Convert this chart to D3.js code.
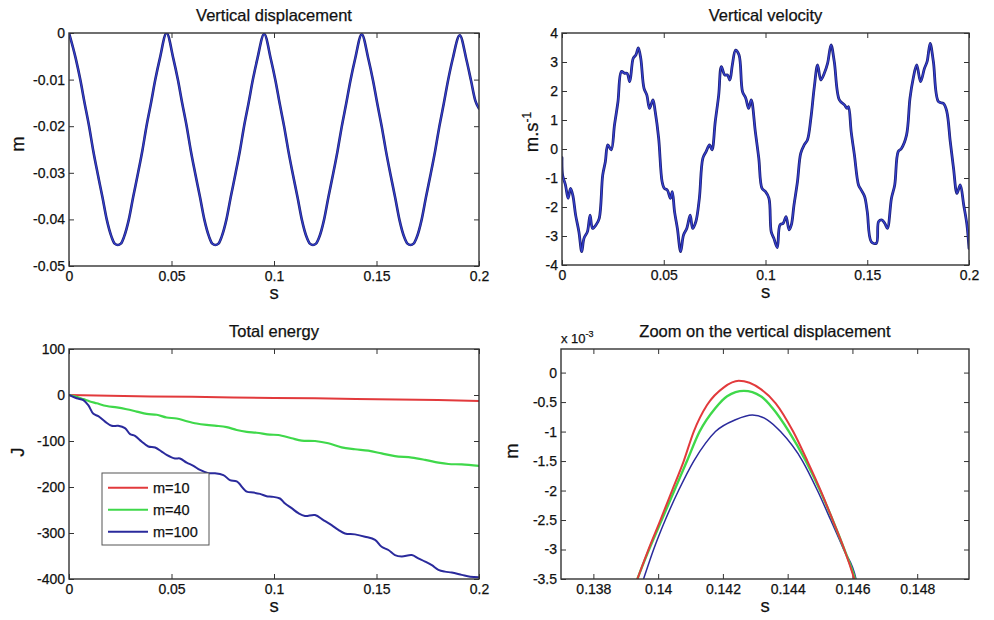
<!DOCTYPE html>
<html><head><meta charset="utf-8">
<script src="https://cdn.jsdelivr.net/npm/d3@7"></script>
<style>
body{margin:0;background:#fff}
svg{display:block}
text{font-family:"Liberation Sans",Arial,Helvetica,sans-serif;fill:#111;stroke:#111;stroke-width:0.25px}
</style>
</head><body>
<svg id="c" width="994" height="620"></svg>
<script>
// ---------- DATA ----------
// Panel 1: vertical displacement [s, m]
const dispData=[[0,0],[0.0033,-0.0055],[0.0055,-0.010],[0.0076,-0.015],[0.0098,-0.020],[0.0118,-0.0252],[0.0139,-0.030],[0.0163,-0.0352],[0.0184,-0.040],[0.0208,-0.0438],[0.0223,-0.0452],[0.0238,-0.0455],[0.0253,-0.0452],[0.0268,-0.0438],[0.0292,-0.040],[0.0313,-0.0352],[0.0337,-0.030],[0.0358,-0.0252],[0.0378,-0.020],[0.04,-0.015],[0.0421,-0.010],[0.0443,-0.0055],[0.0476,0],
[0.0509,-0.0055],[0.0531,-0.010],[0.0552,-0.015],[0.0574,-0.020],[0.0594,-0.0252],[0.0615,-0.030],[0.0639,-0.0352],[0.066,-0.040],[0.0684,-0.0438],[0.0699,-0.0452],[0.0714,-0.0455],[0.0729,-0.0452],[0.0744,-0.0438],[0.0768,-0.040],[0.0789,-0.0352],[0.0813,-0.030],[0.0834,-0.0252],[0.0854,-0.020],[0.0876,-0.015],[0.0897,-0.010],[0.0919,-0.0055],[0.0952,-0.0002],
[0.0985,-0.0057],[0.1007,-0.0102],[0.1028,-0.0152],[0.105,-0.0202],[0.107,-0.0253],[0.1091,-0.0301],[0.1115,-0.0353],[0.1136,-0.0401],[0.116,-0.0439],[0.1175,-0.0452],[0.119,-0.0455],[0.1205,-0.0452],[0.122,-0.0439],[0.1244,-0.0401],[0.1265,-0.0353],[0.1289,-0.0301],[0.131,-0.0253],[0.133,-0.0202],[0.1352,-0.0152],[0.1373,-0.0102],[0.1395,-0.0057],[0.1428,-0.0003],
[0.1461,-0.0057],[0.1483,-0.0102],[0.1504,-0.0152],[0.1526,-0.0202],[0.1546,-0.0253],[0.1567,-0.0301],[0.1591,-0.0353],[0.1612,-0.0401],[0.1636,-0.0439],[0.1651,-0.0452],[0.1666,-0.0455],[0.1681,-0.0452],[0.1696,-0.0439],[0.172,-0.0401],[0.1741,-0.0353],[0.1765,-0.0301],[0.1786,-0.0253],[0.1806,-0.0202],[0.1828,-0.0152],[0.1849,-0.0102],[0.1871,-0.0057],[0.1906,-0.0005],
[0.1939,-0.0058],[0.1961,-0.0102],[0.1982,-0.0145],[0.2,-0.0162]];

// Panel 2: vertical velocity [s, m/s]
const velData=[[0,-0.3],[0.0003,-0.9],[0.0017,-1.24],[0.003,-1.7],[0.0042,-1.36],[0.0053,-1.59],[0.0067,-2.28],[0.0083,-2.85],[0.0097,-3.54],[0.0108,-3.08],[0.0125,-2.85],[0.0138,-2.28],[0.015,-2.74],[0.0167,-2.62],[0.0183,-2.39],[0.02,-0.9],[0.0213,-0.44],[0.0225,0.14],[0.0242,-0.03],[0.0258,0.83],[0.0275,1.63],[0.0292,2.67],[0.0308,2.61],[0.032,2.61],[0.0333,2.32],[0.035,3.13],[0.0363,3.24],[0.0375,3.49],[0.0387,3.13],[0.0403,2.09],[0.0417,1.86],[0.043,1.4],[0.0447,1.69],[0.0458,1.29],[0.0475,0.37],[0.0492,-1.13],[0.0503,-1.36],[0.0517,-1.41],[0.0533,-1.7],[0.0542,-1.47],[0.0553,-2.16],[0.0567,-2.74],[0.0583,-3.54],[0.0597,-2.97],[0.0613,-2.74],[0.063,-2.28],[0.0642,-2.74],[0.0658,-2.5],[0.0675,-1.7],[0.0692,-0.32],[0.0708,-0.09],[0.0725,0.14],[0.0737,-0.03],[0.0753,0.94],[0.077,1.86],[0.0783,2.84],[0.08,2.55],[0.0813,2.55],[0.0825,2.38],[0.0837,2.9],[0.0853,3.41],[0.087,3.24],[0.0887,1.98],[0.0903,1.75],[0.0917,1.4],[0.093,1.69],[0.095,0.6],[0.0967,-0.32],[0.0983,-1.36],[0.1,-1.47],[0.1017,-1.7],[0.1028,-2.85],[0.1041,-3.08],[0.1058,-3.4],[0.1071,-2.62],[0.1087,-2.56],[0.1101,-2.33],[0.1116,-2.79],[0.1127,-2.62],[0.114,-1.93],[0.1157,-1.13],[0.1173,-0.15],[0.119,0.14],[0.1206,0.31],[0.1223,1.06],[0.124,2.15],[0.1256,2.9],[0.1272,2.38],[0.1289,2.61],[0.1305,2.95],[0.1322,3.59],[0.1338,3.01],[0.1363,1.69],[0.1388,1.52],[0.1401,1.4],[0.1408,1.46],[0.1421,0.6],[0.1437,-0.21],[0.1457,-1.24],[0.147,-1.41],[0.1487,-1.64],[0.15,-2.16],[0.152,-3.2],[0.1545,-3.25],[0.1556,-2.5],[0.1573,-2.45],[0.1586,-2.56],[0.1599,-2.74],[0.1619,-1.7],[0.1635,-1.24],[0.1652,-0.09],[0.1668,0.02],[0.1693,0.48],[0.171,1.75],[0.1726,2.44],[0.1743,2.9],[0.1762,2.32],[0.1781,2.78],[0.1794,3.01],[0.1809,3.64],[0.1825,3.01],[0.185,1.63],[0.1875,1.57],[0.1891,1.29],[0.1908,0.25],[0.1924,-0.67],[0.1941,-1.53],[0.1957,-1.24],[0.1974,-1.93],[0.199,-2.62],[0.2,-3.43]];

// Panel 3: total energy [s, J]
const energyRed=[[0,0],[0.02,-1.5],[0.04,-3],[0.06,-4],[0.08,-5.5],[0.1,-6.5],[0.12,-7],[0.14,-8.5],[0.16,-10],[0.18,-11],[0.2,-13]];
const energyGreen=[[0,0],[0.0037,-4],[0.007,-9],[0.0102,-14],[0.0135,-18],[0.0184,-24],[0.0233,-27],[0.0281,-31],[0.033,-36],[0.0379,-41],[0.0428,-43],[0.0476,-49],[0.0525,-51],[0.0574,-57],[0.0623,-62],[0.0672,-65],[0.072,-67],[0.0769,-70],[0.0818,-76],[0.0867,-80],[0.0915,-82],[0.098,-86],[0.1021,-87],[0.1086,-94],[0.1135,-99],[0.12,-100],[0.1265,-105],[0.133,-114],[0.1395,-118],[0.146,-121],[0.1525,-127],[0.159,-133],[0.1672,-136],[0.1737,-141],[0.1802,-147],[0.1851,-150],[0.1916,-151],[0.2,-154]];
const energyBlue=[[0,0],[0.0037,-7],[0.007,-11],[0.0094,-22],[0.0119,-41],[0.0143,-46],[0.0176,-58],[0.0208,-67],[0.024,-67],[0.0273,-72],[0.0298,-85],[0.0322,-89],[0.0354,-101],[0.0387,-112],[0.042,-114],[0.0452,-123],[0.0476,-130],[0.0517,-138],[0.0541,-138],[0.0574,-147],[0.0607,-154],[0.0639,-163],[0.068,-170],[0.0712,-170],[0.0753,-174],[0.0785,-185],[0.0818,-188],[0.0867,-210],[0.0899,-212],[0.0932,-215],[0.0964,-220],[0.0989,-221],[0.1029,-225],[0.1054,-236],[0.1086,-246],[0.1119,-257],[0.1151,-263],[0.12,-261],[0.1241,-272],[0.1281,-283],[0.1314,-293],[0.1346,-301],[0.1395,-303],[0.1444,-308],[0.1493,-315],[0.1525,-330],[0.1558,-337],[0.159,-348],[0.1623,-351],[0.1672,-348],[0.1704,-355],[0.1737,-362],[0.177,-370],[0.1802,-380],[0.1834,-384],[0.1867,-386],[0.1916,-391],[0.1957,-395],[0.2,-396]];
const legendLabels=["m=10","m=40","m=100"];

// Panel 4: zoom on displacement [s, m x 1e-3]
const zoomRed=[[0.1392,-3.75],[0.13936,-3.5],[0.1397,-3.0],[0.14007,-2.5],[0.14043,-2.0],[0.14079,-1.5],[0.1411,-1.0],[0.14151,-0.55],[0.14203,-0.25],[0.14249,-0.14],[0.14317,-0.28],[0.14363,-0.52],[0.14417,-1.0],[0.14461,-1.5],[0.14502,-2.0],[0.14539,-2.5],[0.14575,-3.0],[0.14606,-3.5],[0.1462,-3.75]];
const zoomGreen=[[0.1392,-3.75],[0.13936,-3.5],[0.13972,-3.0],[0.14011,-2.5],[0.1405,-2.0],[0.14089,-1.5],[0.14128,-1.0],[0.14177,-0.6],[0.14213,-0.4],[0.14265,-0.31],[0.14317,-0.4],[0.14353,-0.6],[0.14404,-1.0],[0.14456,-1.5],[0.145,-2.0],[0.14539,-2.5],[0.14575,-3.0],[0.14608,-3.5],[0.1462,-3.75]];
const zoomBlue=[[0.1394,-3.75],[0.13955,-3.5],[0.13986,-3.0],[0.14022,-2.5],[0.14063,-2.0],[0.1411,-1.5],[0.14146,-1.2],[0.14177,-1.0],[0.14239,-0.8],[0.14291,-0.72],[0.14337,-0.8],[0.14378,-1.0],[0.14446,-1.5],[0.14492,-2.0],[0.14533,-2.5],[0.14573,-3.0],[0.14611,-3.5],[0.1462,-3.75]];

// Ticks
const timeTicks=[0,0.05,0.1,0.15,0.2];
const timeTickLabels=["0","0.05","0.1","0.15","0.2"];
const dispTicks=[0,-0.01,-0.02,-0.03,-0.04,-0.05];
const dispTickLabels=["0","-0.01","-0.02","-0.03","-0.04","-0.05"];
const velTicks=[4,3,2,1,0,-1,-2,-3,-4];
const velTickLabels=["4","3","2","1","0","-1","-2","-3","-4"];
const energyTicks=[100,0,-100,-200,-300,-400];
const energyTickLabels=["100","0","-100","-200","-300","-400"];
const zoomXTicks=[0.138,0.14,0.142,0.144,0.146,0.148];
const zoomXTickLabels=["0.138","0.14","0.142","0.144","0.146","0.148"];
const zoomYTicks=[0,-0.5,-1,-1.5,-2,-2.5,-3,-3.5];
const zoomYTickLabels=["0","-0.5","-1","-1.5","-2","-2.5","-3","-3.5"];

// ---------- DRAW ----------
const svg=d3.select("#c");
const C={red:"#e23a3c",green:"#3fd84a",blue:"#2a2a9c"};
let clipId=0;

function panel(o){
  const g=svg.append("g");
  const x=d3.scaleLinear().domain(o.xd).range([o.l,o.r]);
  const y=d3.scaleLinear().domain(o.yd).range([o.b,o.t]);
  const id="clip"+(clipId++);
  g.append("clipPath").attr("id",id).append("rect")
    .attr("x",o.l).attr("y",o.t).attr("width",o.r-o.l).attr("height",o.b-o.t);
  const fmt=(vals,labs)=>d=>labs[vals.indexOf(d)];
  const styleAx=a=>{a.select(".domain").remove();a.selectAll("line").attr("stroke","#333").attr("stroke-width",1);a.selectAll("text").attr("font-size",14).attr("fill","#111").attr("font-family",null);};
  g.append("g").attr("transform",`translate(0,${o.b})`)
    .call(d3.axisBottom(x).tickValues(o.xt).tickFormat(fmt(o.xt,o.xl)).tickSizeInner(-5).tickSizeOuter(0).tickPadding(5)).call(styleAx);
  g.append("g").attr("transform",`translate(0,${o.t})`)
    .call(d3.axisTop(x).tickValues(o.xt).tickFormat("").tickSizeInner(-5).tickSizeOuter(0)).call(styleAx);
  g.append("g").attr("transform",`translate(${o.l},0)`)
    .call(d3.axisLeft(y).tickValues(o.yt).tickFormat(fmt(o.yt,o.yl)).tickSizeInner(-5).tickSizeOuter(0).tickPadding(4)).call(styleAx);
  g.append("g").attr("transform",`translate(${o.r},0)`)
    .call(d3.axisRight(y).tickValues(o.yt).tickFormat("").tickSizeInner(-5).tickSizeOuter(0)).call(styleAx);
  const lines=g.append("g").attr("clip-path",`url(#${id})`);
  o.series.forEach(s=>{
    const line=d3.line().x(d=>x(d[0])).y(d=>y(d[1])).curve(s.curve||d3.curveLinear);
    lines.append("path").datum(s.data).attr("d",line).attr("fill","none")
      .attr("stroke",s.color).attr("stroke-width",s.w).attr("stroke-linejoin","round").attr("stroke-linecap","round");
  });
  g.append("rect").attr("x",o.l).attr("y",o.t).attr("width",o.r-o.l).attr("height",o.b-o.t)
    .attr("fill","none").attr("stroke","#333").attr("stroke-width",1.4);
  g.append("text").attr("x",(o.l+o.r)/2).attr("y",o.t-12).attr("text-anchor","middle").attr("font-size",16.5).text(o.title);
  g.append("text").attr("x",(o.l+o.r)/2).attr("y",o.b+33).attr("text-anchor","middle").attr("font-size",18.5).text("s");
  return {g,x,y};
}

const smooth=d3.curveCatmullRom.alpha(0.5);

// Panel 1
const p1=panel({l:69,r:479,t:33,b:266,xd:[0,0.2],yd:[-0.05,0],xt:timeTicks,xl:timeTickLabels,yt:dispTicks,yl:dispTickLabels,
  title:"Vertical displacement",
  series:[{data:dispData,color:"#1c1f70",w:2.6,curve:d3.curveMonotoneX},{data:dispData,color:"#3540d0",w:1.2,curve:d3.curveMonotoneX}]});
p1.g.append("text").attr("transform","translate(24,144) rotate(-90)").attr("text-anchor","middle").attr("font-size",18.5).text("m");

// Panel 2
const p2=panel({l:562,r:969,t:33,b:265,xd:[0,0.2],yd:[-4,4],xt:timeTicks,xl:timeTickLabels,yt:velTicks,yl:velTickLabels,
  title:"Vertical velocity",
  series:[{data:velData,color:"#1c1f70",w:2.8,curve:smooth},{data:velData,color:"#3540d0",w:1.3,curve:smooth}]});
const vl=p2.g.append("text").attr("transform","translate(538,132) rotate(-90)").attr("text-anchor","middle").attr("font-size",18.5);
vl.append("tspan").text("m.s");
vl.append("tspan").attr("dy",-7).attr("font-size",12).text("-1");

// Panel 3
const p3=panel({l:69,r:479,t:349,b:579,xd:[0,0.2],yd:[-400,100],xt:timeTicks,xl:timeTickLabels,yt:energyTicks,yl:energyTickLabels,
  title:"Total energy",
  series:[{data:energyRed,color:C.red,w:2},{data:energyGreen,color:C.green,w:2.2,curve:smooth},{data:energyBlue,color:C.blue,w:2,curve:smooth}]});
p3.g.append("text").attr("transform","translate(24,452) rotate(-90)").attr("text-anchor","middle").attr("font-size",18.5).text("J");
const lg=p3.g.append("g");
lg.append("rect").attr("x",102).attr("y",473).attr("width",107).attr("height",72).attr("fill","#fff").attr("stroke","#555").attr("stroke-width",1);
[C.red,C.green,C.blue].forEach((c,i)=>{
  const yy=487.7+i*22;
  lg.append("line").attr("x1",108).attr("x2",148).attr("y1",yy).attr("y2",yy).attr("stroke",c).attr("stroke-width",2);
  lg.append("text").attr("x",153).attr("y",yy).attr("dy","0.35em").attr("font-size",14.5).text(legendLabels[i]);
});

// Panel 4
const p4=panel({l:561,r:969,t:349,b:579,xd:[0.137,0.1496],yd:[-3.5,0.4],xt:zoomXTicks,xl:zoomXTickLabels,yt:zoomYTicks,yl:zoomYTickLabels,
  title:"Zoom on the vertical displacement",
  series:[{data:zoomBlue,color:C.blue,w:1.5,curve:d3.curveMonotoneX},{data:zoomGreen,color:C.green,w:2.4,curve:d3.curveMonotoneX},{data:zoomRed,color:C.red,w:2,curve:d3.curveMonotoneX}]});
p4.g.append("text").attr("transform","translate(518,451) rotate(-90)").attr("text-anchor","middle").attr("font-size",18.5).text("m");
const ex=p4.g.append("text").attr("x",561).attr("y",343).attr("font-size",13);
ex.append("tspan").text("x 10");
ex.append("tspan").attr("dy",-6).attr("font-size",9).text("-3");
</script>
</body></html>
